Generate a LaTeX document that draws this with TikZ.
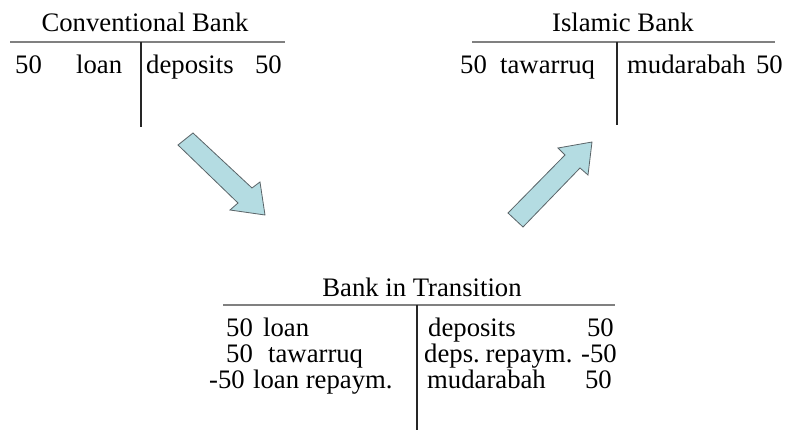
\documentclass[tikz,border=0pt]{standalone}
\usepackage{fontspec}
\setmainfont{Liberation Serif}
\usetikzlibrary{positioning}
\definecolor{arrowblue}{RGB}{180,220,226}
\definecolor{arrowedge}{RGB}{90,100,104}

\begin{document}
\begin{tikzpicture}[x=1pt, y=-1pt, font=\fontsize{26.7}{30}\selectfont,
                    every node/.style={inner sep=0pt},
                    title/.style={anchor=base},
                    entry/.style={anchor=base west},
                    amount/.style={anchor=base east},
                    rule/.style={draw=black!50, line width=1.1pt},
                    split/.style={draw=black!85, line width=1.1pt},
                    blockarrow/.style={draw=arrowedge, fill=arrowblue, line width=0.8pt, line join=miter}]

                      \useasboundingbox (0,0) rectangle (785,430);

                      \node[title]  (conv)      at (145,32)  {Conventional Bank};
                      \node[entry]  (conv-a1)   at (15,74)   {50};
                      \node[entry]  (conv-a2)   at (76,74)   {loan};
                      \node[entry]  (conv-l1)   at (146,74)  {deposits};
                      \node[amount] (conv-l2)   at (282,74)  {50};
                      \coordinate   (conv-w)    at (10,42);
                      \coordinate   (conv-e)    at (285,42);
                      \coordinate   (conv-top)  at (141,42);
                      \coordinate   (conv-bot)  at (141,127);

                      \node[title]  (isl)       at (623,32)  {Islamic Bank};
                      \node[entry]  (isl-a1)    at (460,74)  {50};
                      \node[entry]  (isl-a2)    at (500,74)  {tawarruq};
                      \node[entry]  (isl-l1)    at (627,74)  {mudarabah};
                      \node[amount] (isl-l2)    at (783,74)  {50};
                      \coordinate   (isl-w)     at (472,42);
                      \coordinate   (isl-e)     at (775,42);
                      \coordinate   (isl-top)   at (617,42);
                      \coordinate   (isl-bot)   at (617,125);

                      \node[title]  (trans)     at (422,297) {Bank in Transition};
                      \node[entry]  (trans-a1)  at (226,337) {50};
                      \node[entry]  (trans-a2)  at (263,337) {loan};
                      \node[entry]  (trans-a3)  at (226,363) {50};
                      \node[entry]  (trans-a4)  at (268,363) {tawarruq};
                      \node[entry]  (trans-a5)  at (209,389) {-50};
                      \node[entry]  (trans-a6)  at (253,389) {loan repaym.};
                      \node[entry]  (trans-l1)  at (428,337) {deposits};
                      \node[amount] (trans-l2)  at (614,337) {50};
                      \node[entry]  (trans-l3)  at (424,363) {deps.\hspace{-3pt} repaym.};
                      \node[amount] (trans-l4)  at (617,363) {-50};
                      \node[entry]  (trans-l5)  at (427,389) {mudarabah};
                      \node[amount] (trans-l6)  at (612,389) {50};
                      \coordinate   (trans-w)   at (223,305);
                      \coordinate   (trans-e)   at (615,305);
                      \coordinate   (trans-top) at (417,305);
                      \coordinate   (trans-bot) at (417,430);

                      \path[rule]  (conv-w) -- (conv-e)
                                   (isl-w) -- (isl-e)
                                   (trans-w) -- (trans-e);
                      \path[split] (conv-top) -- (conv-bot)
                                   (isl-top) -- (isl-bot)
                                   (trans-top) -- (trans-bot);

                      \draw[blockarrow] (178,145) -- (193,133) -- (252,188) -- (260,182)
                                        -- (265,215) -- (230,210) -- (238,203) -- cycle;
                      \draw[blockarrow] (508,213) -- (565,155) -- (558,148) -- (592,142)
                                        -- (588,175) -- (580,168) -- (523,227) -- cycle;
                \end{tikzpicture}
\end{document}
